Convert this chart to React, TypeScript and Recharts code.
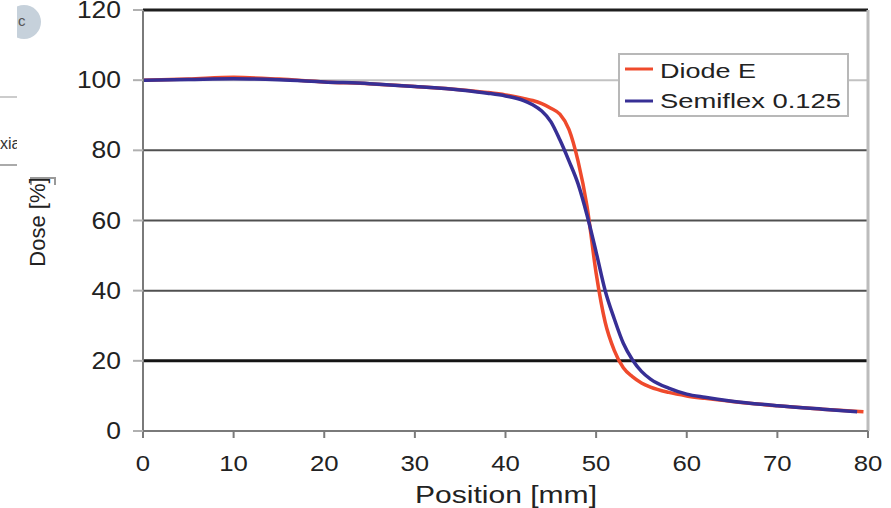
import React from "react";
import {
  LineChart,
  Line,
  XAxis,
  YAxis,
  ReferenceLine,
  Legend,
  Label,
} from "recharts";

// Dose profiles (position in mm, dose in %)
const diodePos = [0, 5, 10, 15, 20, 25, 30, 35, 38, 40, 42, 43, 44, 45, 46, 47, 48, 49, 50, 51, 52, 53, 54, 55, 56, 58, 60, 62, 65, 70, 75, 79.5];
const diodeDose = [100, 100.3, 100.8, 100.3, 99.5, 99, 98.2, 97.3, 96.5, 95.8, 94.8, 94.2, 93.3, 92, 90.3, 86, 77, 64, 45, 31, 23, 18, 15.5, 13.7, 12.5, 11, 10, 9.3, 8.4, 7.2, 6.2, 5.5];

const semiflexPos = [0, 5, 10, 15, 20, 25, 30, 35, 38, 40, 42, 43, 44, 45, 46, 47, 48, 49, 50, 51, 52, 53, 54, 55, 56, 58, 60, 62, 65, 70, 75, 78.8];
const semiflexDose = [100, 100.2, 100.4, 100.1, 99.5, 99, 98.2, 97.2, 96.3, 95.5, 94.2, 93, 91.2, 88.2, 83, 77, 70.5, 61.5, 51, 40, 32, 25, 20.3, 17, 14.8, 12.2, 10.5, 9.6, 8.5, 7.2, 6.2, 5.5];

const xTicks = [0, 10, 20, 30, 40, 50, 60, 70, 80];
const yTicks = [0, 20, 40, 60, 80, 100, 120];

const diodeData = diodePos.map((pos, i) => ({ pos, dose: diodeDose[i] }));
const semiflexData = semiflexPos.map((pos, i) => ({ pos, dose: semiflexDose[i] }));

const RED = "#ef4a2c";
const BLUE = "#372f95";
const TEXT = "#222";
const FONT = "'Liberation Sans', Arial, sans-serif";

function YTick({ x, y, payload }: any) {
  return (
    <text
      transform={`translate(${x},${y + 8}) scale(1.15,1)`}
      textAnchor="end"
      fontSize={23}
      fill={TEXT}
      fontFamily={FONT}
    >
      {payload.value}
    </text>
  );
}

function XTick({ x, y, payload }: any) {
  return (
    <text
      transform={`translate(${x},${y + 25}) scale(1.12,1)`}
      textAnchor="middle"
      fontSize={23}
      fill={TEXT}
      fontFamily={FONT}
    >
      {payload.value}
    </text>
  );
}

function LegendBox() {
  return (
    <svg width={232} height={65} style={{ display: "block" }}>
      <rect x={1} y={1} width={229} height={62} fill="#fff" stroke="#b8b8b8" strokeWidth={2} />
      <line x1={7} x2={35} y1={16} y2={16} stroke={RED} strokeWidth={3} />
      <text x={42} y={25} fontSize={20} fill={TEXT} fontFamily={FONT} textLength={96} lengthAdjust="spacingAndGlyphs">
        Diode E
      </text>
      <line x1={7} x2={35} y1={48} y2={48} stroke={BLUE} strokeWidth={3} />
      <text x={42} y={55} fontSize={20} fill={TEXT} fontFamily={FONT} textLength={181} lengthAdjust="spacingAndGlyphs">
        Semiflex 0.125
      </text>
    </svg>
  );
}

// bits of the neighbouring page that show at the left edge
function PageScraps() {
  return (
    <>
      <div style={{ position: "absolute", left: 17, top: 5, width: 24, height: 34, overflow: "hidden" }}>
        <div
          style={{
            position: "absolute",
            left: -10,
            top: 0,
            width: 34,
            height: 34,
            borderRadius: "50%",
            background: "#c6d1db",
          }}
        />
        <span style={{ position: "absolute", left: 1, top: 7, fontSize: 15, color: "#555", fontFamily: FONT }}>c</span>
      </div>
      <div style={{ position: "absolute", left: 0, top: 96, width: 17, height: 2, background: "#ccc" }} />
      <div style={{ position: "absolute", left: 0, top: 135, width: 17, overflow: "hidden", fontSize: 16, color: "#333", fontFamily: FONT, whiteSpace: "nowrap" }}>
        xia
      </div>
      <div style={{ position: "absolute", left: 0, top: 164, width: 17, height: 2, background: "#aaa" }} />
      <div style={{ position: "absolute", left: 30, top: 177, width: 22, height: 6, borderTop: "2px solid #999", borderLeft: "2px solid #999", borderRight: "2px solid #999" }} />
    </>
  );
}

export default function App() {
  return (
    <div style={{ position: "absolute", left: 0, top: 0, width: 891, height: 508, background: "#fff" }}>
      <PageScraps />
      <LineChart width={891} height={508} margin={{ top: 10, right: 23, bottom: 0, left: 0 }}>
        <XAxis
          dataKey="pos"
          type="number"
          domain={[0, 80]}
          ticks={xTicks}
          height={77}
          tickSize={7}
          tickMargin={8}
          tick={<XTick />}
          axisLine={{ stroke: "#7a7a7a", strokeWidth: 2 }}
          tickLine={{ stroke: "#7a7a7a", strokeWidth: 2 }}
          allowDuplicatedCategory={false}
        >
          <Label
            content={() => (
              <text x={415} y={503} fontSize={23} fill={TEXT} fontFamily={FONT} textLength={182} lengthAdjust="spacingAndGlyphs">
                Position [mm]
              </text>
            )}
          />
        </XAxis>
        <YAxis
          dataKey="dose"
          type="number"
          domain={[0, 120]}
          ticks={yTicks}
          width={143}
          tickSize={10}
          tickMargin={12}
          tick={<YTick />}
          axisLine={{ stroke: "#7a7a7a", strokeWidth: 2 }}
          tickLine={{ stroke: "#b0b0b0", strokeWidth: 2 }}
        >
          <Label
            content={() => (
              <text
                x={45}
                y={222}
                transform="rotate(-90, 45, 222)"
                textAnchor="middle"
                fontSize={22}
                fill={TEXT}
                fontFamily={FONT}
              >
                Dose [%]
              </text>
            )}
          />
        </YAxis>
        <ReferenceLine y={20} stroke="#151515" strokeWidth={3} />
        <ReferenceLine y={40} stroke="#505050" strokeWidth={2} />
        <ReferenceLine y={60} stroke="#505050" strokeWidth={2} />
        <ReferenceLine y={80} stroke="#505050" strokeWidth={2} />
        <ReferenceLine y={100} stroke="#c2c2c2" strokeWidth={2} />
        <ReferenceLine y={120} stroke="#1e1e1e" strokeWidth={3} />
        <ReferenceLine x={80} stroke="#bcbcbc" strokeWidth={3} />
        <Line
          data={diodeData}
          dataKey="dose"
          name="Diode E"
          type="monotone"
          stroke={RED}
          strokeWidth={3.5}
          dot={false}
          isAnimationActive={false}
        />
        <Line
          data={semiflexData}
          dataKey="dose"
          name="Semiflex 0.125"
          type="monotone"
          stroke={BLUE}
          strokeWidth={3.5}
          dot={false}
          isAnimationActive={false}
        />
        <Legend
          layout="horizontal"
          verticalAlign="middle"
          align="center"
          content={() => <LegendBox />}
          wrapperStyle={{ left: 618, top: 53, width: 232, height: 65, right: "auto", bottom: "auto" }}
        />
      </LineChart>
    </div>
  );
}
